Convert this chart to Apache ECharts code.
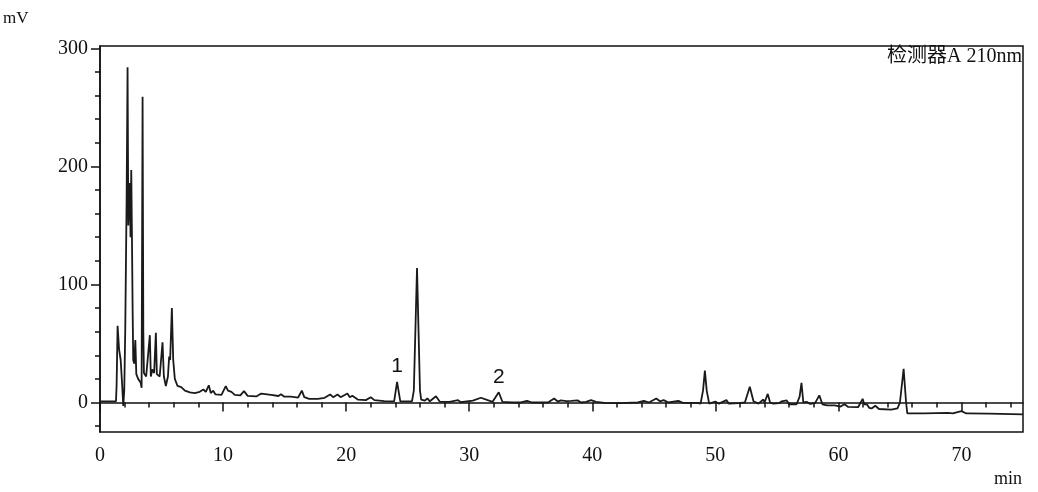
<!DOCTYPE html>
<html>
<head>
<meta charset="utf-8">
<script src="https://cdn.jsdelivr.net/npm/echarts@6/dist/echarts.min.js"></script>
<style>
  html, body { margin: 0; padding: 0; background: #fff; }
  #chart { width: 1038px; height: 492px; }
</style>
</head>
<body>
<div id="chart"></div>
<script>
// retention time (min) and detector signal (mV)
const minutes = [
  0, 1.3, 1.35, 1.43, 1.55, 1.68, 1.8, 1.89, 1.97, 2.05, 2.16, 2.24, 2.3, 2.37, 2.43, 2.48, 2.54, 2.59, 2.65, 2.7,
  2.78, 2.87, 2.95, 3.1, 3.3, 3.38, 3.46, 3.52, 3.57, 3.75, 3.9, 4.05, 4.13, 4.25, 4.4, 4.54, 4.62, 4.85, 5.08, 5.19,
  5.35, 5.52, 5.62, 5.7, 5.84, 5.95, 6.08, 6.3, 6.6, 6.9, 7.3, 7.7, 8.1, 8.4, 8.6, 8.84, 9.0, 9.2, 9.38, 9.87,
  10.22, 10.4, 10.68, 10.95, 11.4, 11.7, 12.0, 12.7, 13.1, 13.9, 14.5, 14.7, 14.95, 15.5, 16.1, 16.4, 16.6, 17.0, 17.7, 18.25,
  18.7, 18.95, 19.3, 19.55, 20.1, 20.3, 20.5, 20.95, 21.6, 22.0, 22.3, 23.1, 23.9, 24.14, 24.4, 25.35, 25.5, 25.76, 26.0, 26.1,
  26.4, 26.6, 26.8, 27.3, 27.6, 28.4, 29.1, 29.3, 30.3, 30.95, 31.5, 31.9, 32.4, 32.7, 33.5, 34.2, 34.7, 35.1, 36.4, 36.9,
  37.2, 37.45, 37.9, 38.3, 38.8, 39.1, 39.5, 39.9, 40.3, 41.0, 42.3, 43.7, 44.2, 44.6, 45.2, 45.5, 45.8, 46.2, 47.0, 47.4,
  48.5, 48.8, 49.0, 49.15, 49.3, 49.5, 50.0, 50.3, 50.9, 51.1, 51.9, 52.4, 52.8, 53.1, 53.5, 53.9, 54.0, 54.26, 54.45, 54.7,
  55.2, 55.4, 55.5, 55.8, 56.0, 56.6, 56.85, 57.0, 57.15, 57.3, 57.45, 57.7, 58.1, 58.45, 58.7, 59.1, 59.7, 60.15, 60.5, 60.8,
  61.6, 61.97, 62.1, 62.3, 62.5, 62.7, 63.0, 63.3, 64.3, 64.8, 65.0, 65.3, 65.5, 65.6, 67.0, 68.9, 69.3, 70.0, 70.4, 72.2,
  75
]
const signal = [
  1, 1, 15, 65, 45, 36, 15, -3, 10, 60, 169, 284, 150, 175, 186, 140, 197, 147, 80, 36,
  33, 53, 24, 20, 17, 12.5, 259, 60, 25, 22, 22, 57, 22, 28, 25, 59, 24, 22, 51, 22,
  14, 22, 39, 36, 80, 36, 20, 14, 13, 10, 8.5, 8, 9, 11, 9, 14.6, 8, 10, 6.8, 6.5,
  13.8, 10, 9, 6.5, 6, 9.6, 5.6, 5.1, 7.6, 6.5, 5.5, 7, 5, 5, 4.2, 10.1, 4.5, 3.1, 3.1, 4,
  6.8, 4.5, 6.8, 4.5, 7.6, 4.5, 5.7, 2.5, 2, 4.5, 2, 1.1, 1, 17.5, 1, 1, 10, 114, 10, 2.5,
  1.5, 3.5, 1, 5.3, 0.8, 0.5, 2, 0.2, 1.5, 4, 2, 0.6, 8.7, 0.6, 0, 0, 1.4, 0, 0, 3.4,
  0.8, 1.8, 1.2, 1.3, 1.8, 0, 0.5, 2, 0.5, -0.3, -0.5, 0, 1.4, 0, 3.4, 1, 2, 0, 1.4, -0.4,
  -0.4, -1, 10, 27, 10, -1, 0.7, -1, 2, -1, -0.5, 0, 13.3, 1, -1, 2.5, 0, 7.3, 0, -1,
  -0.5, 1, -0.5, 1.7, -1.5, -1.5, 5, 16.6, 0, -0.5, 0.5, -1.2, -0.5, 6, -1.5, -2.5, -2.5, -3.5, -1.5, -3.8,
  -4, 3.1, -1.5, -1.3, -4.5, -5, -2.8, -5.5, -6, -5, 0, 28.5, 0, -9.3, -9.3, -8.8, -9.3, -7.3, -9.3, -9.5,
  -10
]
const peakLabels = [
  { name: '1', coord: [24.14, 17.5] },
  { name: '2', coord: [32.4, 8.7] }
]
const xMajor = [0, 10, 20, 30, 40, 50, 60, 70]
const xMinor = [2, 4, 6, 8, 12, 14, 16, 18, 22, 24, 26, 28, 32, 34, 36, 38, 42, 44, 46, 48,
  52, 54, 56, 58, 62, 64, 66, 68, 72, 74]
const yMajor = [0, 100, 200, 300]
const yMinor = [-20, 20, 40, 60, 80, 120, 140, 160, 180, 220, 240, 260, 280]

const ink = '#111'
const serif = '"Liberation Serif", "Noto Sans CJK SC", serif'

const chart = echarts.init(document.getElementById('chart'))
chart.setOption({
  animation: false,
  backgroundColor: '#fff',
  grid: {
    left: 100,
    right: 15,
    top: 46,
    bottom: 60,
    show: true,
    borderColor: ink,
    borderWidth: 1.5
  },
  graphic: [
    { type: 'text', left: 3, top: 10, style: { text: 'mV', font: '17px ' + serif, fill: ink } },
    { type: 'text', right: 16, top: 470, style: { text: 'min', font: '18px ' + serif, fill: ink } },
    { type: 'text', right: 16, top: 47, style: { text: '检测器A 210nm', font: '20px ' + serif, fill: ink } }
  ],
  xAxis: [{
    type: 'value',
    min: 0,
    max: 75,
    position: 'bottom',
    axisLine: { lineStyle: { color: ink, width: 1.5 } },
    axisTick: { customValues: xMajor, length: 9, lineStyle: { color: ink, width: 1.5 } },
    axisLabel: { customValues: xMajor, margin: 14, color: ink, fontSize: 20, fontFamily: serif },
    splitLine: { show: false }
  }, {
    type: 'value',
    min: 0,
    max: 75,
    position: 'bottom',
    axisLine: { show: false },
    axisTick: { customValues: xMinor, length: 5, lineStyle: { color: ink, width: 1.5 } },
    axisLabel: { show: false },
    splitLine: { show: false }
  }],
  yAxis: [{
    type: 'value',
    min: -25,
    max: 302,
    position: 'left',
    axisLine: { show: true, lineStyle: { color: ink, width: 1.5 } },
    axisTick: { show: true, customValues: yMajor, length: 9, lineStyle: { color: ink, width: 1.5 } },
    axisLabel: { customValues: yMajor, margin: 12, color: ink, fontSize: 20, fontFamily: serif },
    splitLine: { show: false }
  }, {
    type: 'value',
    min: -25,
    max: 302,
    position: 'left',
    axisLine: { show: false },
    axisTick: { show: true, customValues: yMinor, length: 5, lineStyle: { color: ink, width: 1.5 } },
    axisLabel: { show: false },
    splitLine: { show: false }
  }],
  series: [{
    type: 'line',
    xAxisIndex: 0,
    yAxisIndex: 0,
    showSymbol: false,
    lineStyle: { color: '#1a1a1a', width: 1.8 },
    data: minutes.map((t, i) => [t, signal[i]]),
    markPoint: {
      symbol: 'circle',
      symbolSize: 0,
      label: {
        show: true,
        position: 'top',
        distance: 5,
        formatter: '{b}',
        color: ink,
        fontSize: 21,
        fontFamily: '"Liberation Sans", Arial, sans-serif'
      },
      data: peakLabels
    }
  }]
})
</script>
</body>
</html>
